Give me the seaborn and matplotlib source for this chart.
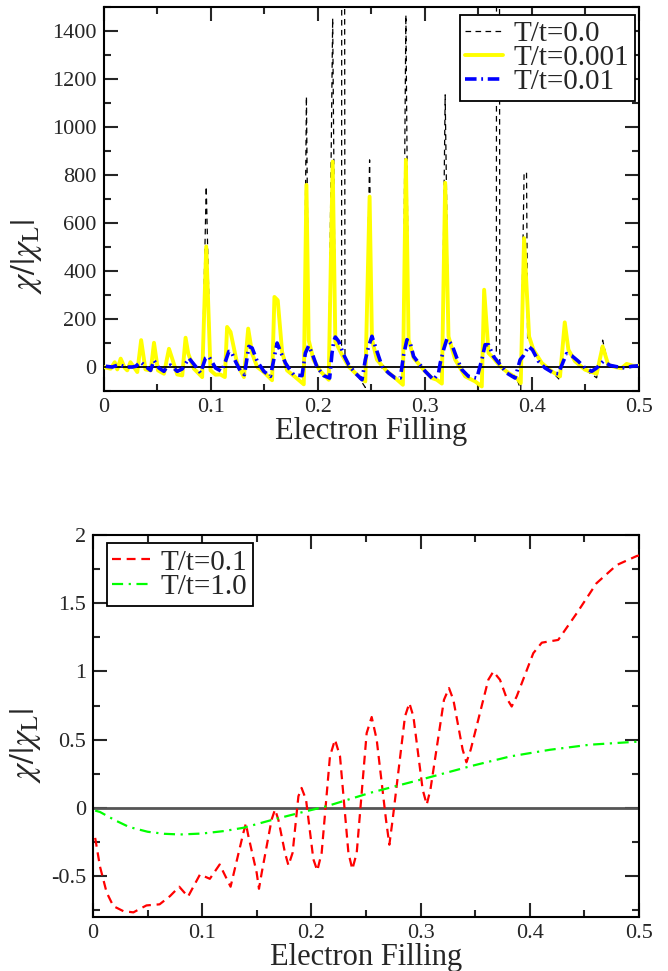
import matplotlib
matplotlib.use("Agg")
import matplotlib.pyplot as plt
import seaborn as sns
from matplotlib.ticker import MultipleLocator, FuncFormatter


# ---- top panel, values ----
# T/t = 0.001 (yellow)
fill_t001 = [0.000, 0.0065, 0.0103, 0.0127, 0.0159, 0.0196, 0.022, 0.025, 0.0314, 0.035,
             0.039, 0.044, 0.047, 0.0507, 0.0563, 0.061, 0.064, 0.0687, 0.0734, 0.0765,
             0.079, 0.0843, 0.092, 0.0958, 0.0998, 0.1045, 0.109, 0.1132, 0.1153, 0.1185,
             0.1247, 0.131, 0.135, 0.1387, 0.1434, 0.1496, 0.1573, 0.1595, 0.1626, 0.1667,
             0.1713, 0.179, 0.1869, 0.1894, 0.1915, 0.196, 0.2025, 0.2102, 0.2139, 0.2164,
             0.2226, 0.2288, 0.2366, 0.2444, 0.2484, 0.2506, 0.2553, 0.2646, 0.2724, 0.2795,
             0.2823, 0.2848, 0.2895, 0.2988, 0.3066, 0.3112, 0.3159, 0.319, 0.3221, 0.3284,
             0.3377, 0.347, 0.3532, 0.3554, 0.3595, 0.3641, 0.3703, 0.3781, 0.3858, 0.3896,
             0.3927, 0.3974, 0.4014, 0.4092, 0.4185, 0.4263, 0.4307, 0.4341, 0.4403, 0.4496,
             0.4605, 0.4661, 0.4713, 0.4776, 0.4838, 0.4885, 0.4947, 0.500]
chi_t001 = [0, -7, 20, -10, 35, -3, -14, 20, -21, 112,
            -10, -14, 101, -14, -28, 76, 35, -31, -35, 122,
            56, -7, -42, 502, -14, -32, -31, -42, 167, 146,
            14, -42, 160, 56, 0, -21, -55, 292, 278, 62,
            -14, -42, -72, 759, 112, 30, -18, -53, 856, 106,
            51, 2, -32, -60, 710, 114, 30, -18, -46, -74,
            863, 114, 38, -11, -46, -53, -69, 768, 127, 30,
            -39, -60, -81, 322, 58, 37, 3, -25, -46, -67,
            537, 127, 72, 17, -18, -39, 186, 72, 24, -11,
            -28, 86, 9, 0, -5, 13, 5, 5]

# T/t = 0.0 (black dashed) follows T/t = 0.001 except at these points
spike_fill_t0 = [0.0958, 0.1894, 0.2139, 0.2222, 0.2224, 0.2226, 0.2250, 0.2254, 0.2444,
                 0.2484, 0.2823, 0.319, 0.3668, 0.3670, 0.3697, 0.3700, 0.3896, 0.3927,
                 0.3950, 0.3960, 0.4263, 0.4605, 0.4661]
spike_chi_t0 = [752, 1127, 1453, 90, 2000, 2000, 2000, 40, -85,
                863, 1467, 1134, 55, 2000, 2000, 20, -95, 810,
                810, 110, -55, -45, 112]

# T/t = 0.01 (blue dash-dot)
fill_t01 = [0.002, 0.008, 0.0143, 0.0205, 0.0267, 0.0299, 0.0345, 0.039, 0.0438, 0.047,
            0.0516, 0.0563, 0.0594, 0.0625, 0.0687, 0.0734, 0.0796, 0.0858, 0.0905, 0.0951,
            0.0983, 0.1045, 0.1101, 0.1138, 0.1169, 0.1191, 0.1231, 0.1278, 0.1315, 0.1356,
            0.1387, 0.1434, 0.1496, 0.1558, 0.1589, 0.162, 0.1651, 0.1698, 0.1738, 0.1775,
            0.1853, 0.1884, 0.1915, 0.1946, 0.1993, 0.2055, 0.2111, 0.2133, 0.2149, 0.2164,
            0.2195, 0.2242, 0.2288, 0.235, 0.2413, 0.2444, 0.2475, 0.2506, 0.2553, 0.26,
            0.2662, 0.2724, 0.2771, 0.2802, 0.2833, 0.2864, 0.2895, 0.2942, 0.3004, 0.3081,
            0.3128, 0.3144, 0.3175, 0.3206, 0.3253, 0.3299, 0.3346, 0.3408, 0.3486, 0.3532,
            0.3563, 0.3595, 0.3641, 0.3703, 0.3765, 0.3843, 0.389, 0.3921, 0.3968, 0.4005,
            0.4061, 0.4123, 0.4201, 0.4247, 0.4294, 0.4325, 0.4372, 0.4434, 0.4496, 0.4558,
            0.4605, 0.4667, 0.4729, 0.4807, 0.4869, 0.4931, 0.4993]
chi_t01 = [3, 0, 10, 0, 0, 3, 21, 3, -14, 28,
           -4, -18, 3, 8, -18, -8, 37, 3, -25, 37,
           44, -4, -18, 24, 65, 65, 24, -18, -32, 86,
           79, 24, -18, -39, 31, 100, 65, 17, -11, -32,
           -36, 58, 89, 58, 0, -36, -46, 58, 107, 125,
           107, 51, 10, -25, -53, 30, 86, 128, 65, 3,
           -25, -46, -46, 51, 114, 100, 44, 17, -18, -53,
           -25, 17, 72, 117, 93, 37, -11, -39, -46, 30,
           93, 93, 44, 10, -25, -46, 30, 47, 86, 72,
           24, -4, -25, -28, 24, 56, 47, 24, -4, -18,
           -4, 24, 7, 0, -4, 3, 5]

# ---- bottom panel ----
# T/t = 0.1 (red dashed)
fill_t1 = [0.002, 0.0064, 0.0125, 0.0186, 0.0278, 0.037, 0.043, 0.049, 0.061, 0.0705,
           0.079, 0.087, 0.098, 0.107, 0.116, 0.126, 0.1377, 0.140, 0.1423, 0.1499,
           0.152, 0.1545, 0.1636, 0.1667, 0.1697, 0.1758, 0.179, 0.1828, 0.1881, 0.191,
           0.1951, 0.2018, 0.2054, 0.2094, 0.217, 0.2216, 0.2262, 0.2339, 0.2375, 0.2415,
           0.2506, 0.2552, 0.2598, 0.2683, 0.2714, 0.2744, 0.2857, 0.2897, 0.2934, 0.3019,
           0.3056, 0.309, 0.3214, 0.326, 0.330, 0.3385, 0.342, 0.3459, 0.362, 0.3666,
           0.3727, 0.3788, 0.3834, 0.388, 0.4032, 0.411, 0.426, 0.443, 0.461, 0.4796,
           0.4979, 0.500]
chi_t1 = [-0.22, -0.43, -0.62, -0.72, -0.757, -0.766, -0.74, -0.715, -0.707, -0.647,
          -0.578, -0.651, -0.488, -0.52, -0.415, -0.578, -0.183, -0.115, -0.207, -0.476,
          -0.593, -0.476, -0.085, -0.012, -0.085, -0.329, -0.422, -0.329, 0.085, 0.146,
          0.06, -0.377, -0.46, -0.33, 0.378, 0.50, 0.378, -0.33, -0.45, -0.33,
          0.548, 0.666, 0.50, -0.086, -0.27, -0.086, 0.67, 0.768, 0.67, 0.134,
          0.024, 0.134, 0.792, 0.878, 0.792, 0.427, 0.334, 0.427, 0.939, 0.999,
          0.939, 0.804, 0.743, 0.817, 1.134, 1.211, 1.231, 1.427, 1.646, 1.78,
          1.846, 1.85]

# T/t = 1.0 (green dash-dot)
fill_t10 = [0.002, 0.0064, 0.02, 0.033, 0.05, 0.065, 0.08, 0.10, 0.12, 0.1377,
            0.165, 0.19, 0.214, 0.2537, 0.3025, 0.345, 0.382, 0.4185, 0.455, 0.498, 0.500]
chi_t10 = [-0.02, -0.03, -0.09, -0.14, -0.175, -0.19, -0.195, -0.188, -0.17, -0.146,
           -0.086, -0.035, 0.012, 0.11, 0.212, 0.304, 0.377, 0.426, 0.463, 0.485, 0.486]


def style_axis(ax):
    for side in ax.spines.values():
        side.set_linewidth(1.5)
        side.set_color("black")
    ax.tick_params(which="both", direction="in", top=True, right=True,
                   width=1.5, labelsize=16, pad=5)
    ax.tick_params(which="major", length=10)
    ax.tick_params(which="minor", length=5)
    ax.xaxis.set_major_locator(MultipleLocator(0.1))
    ax.xaxis.set_minor_locator(MultipleLocator(0.05))
    ax.xaxis.set_major_formatter(FuncFormatter(lambda v, p: "%g" % round(v, 3)))
    ax.yaxis.set_major_formatter(FuncFormatter(lambda v, p: "%g" % round(v, 3)))
    ax.set_xlim(0, 0.5)
    ax.set_xlabel("Electron Filling", fontsize=22, labelpad=0)
    ax.set_ylabel(r"$\chi/|\chi_{\rm L}|$", fontsize=25)


def add_legend(ax, loc, anchor):
    leg = ax.legend(loc=loc, bbox_to_anchor=anchor, borderaxespad=0,
                    fancybox=False, framealpha=1, edgecolor="black", fontsize=21,
                    handlelength=1.3, handletextpad=0.35, labelspacing=-0.08,
                    borderpad=0.2)
    leg.get_frame().set_linewidth(1.3)


def main():
    sns.set_style("ticks")
    plt.rcParams["font.family"] = ["Liberation Serif", "DejaVu Serif"]
    plt.rcParams["mathtext.fontset"] = "stix"
    plt.rcParams["axes.unicode_minus"] = False

    fig = plt.figure(figsize=(6.68, 9.71), dpi=100)
    ax1 = fig.add_axes([0.1552, 0.5973, 0.8013, 0.3955])
    ax2 = fig.add_axes([0.1392, 0.0556, 0.8174, 0.3934])

    # T/t=0.0 curve = T/t=0.001 curve with its own spikes
    t0 = dict(zip(fill_t001, chi_t001))
    t0.update(zip(spike_fill_t0, spike_chi_t0))
    fill_t0 = sorted(t0)
    chi_t0 = [t0[f] for f in fill_t0]

    sns.lineplot(x=fill_t0, y=chi_t0, ax=ax1, color="black", lw=0.9,
                 linestyle=(0, (4.5, 3.5)), label="T/t=0.0", errorbar=None, zorder=2)
    sns.lineplot(x=fill_t001, y=chi_t001, ax=ax1, color="#ffff00", lw=2.8,
                 label="T/t=0.001", errorbar=None, zorder=3)
    ax1.axhline(0, color="black", lw=1.3, zorder=3.5)
    sns.lineplot(x=fill_t01, y=chi_t01, ax=ax1, color="#0000ff", lw=2.6,
                 linestyle=(0, (3.2, 1.3, 0.5, 1.3)), label="T/t=0.01",
                 errorbar=None, zorder=4)
    style_axis(ax1)
    ax1.set_ylim(-100, 1500)
    ax1.yaxis.set_major_locator(MultipleLocator(200))
    ax1.yaxis.set_minor_locator(MultipleLocator(100))
    ax1.yaxis.set_label_coords(-0.112, 0.35)
    add_legend(ax1, "upper right", (0.9925, 0.979))

    ax2.axhline(0, color="#555555", lw=2, zorder=1.5)
    sns.lineplot(x=fill_t1, y=chi_t1, ax=ax2, color="#ff0000", lw=1.6,
                 linestyle=(0, (4, 2.6)), label="T/t=0.1", errorbar=None, zorder=3)
    sns.lineplot(x=fill_t10, y=chi_t10, ax=ax2, color="#00ff00", lw=1.6,
                 linestyle=(0, (5, 2.5, 1, 2.5)), label="T/t=1.0", errorbar=None, zorder=3)
    style_axis(ax2)
    ax2.set_ylim(-0.8, 2)
    ax2.yaxis.set_major_locator(MultipleLocator(0.5))
    ax2.yaxis.set_minor_locator(MultipleLocator(0.25))
    ax2.yaxis.set_label_coords(-0.092, 0.45)
    add_legend(ax2, "upper left", (0.025, 0.978))

    fig.savefig("out.png", dpi=100)
    plt.close(fig)


if __name__ == "__main__":
    main()
